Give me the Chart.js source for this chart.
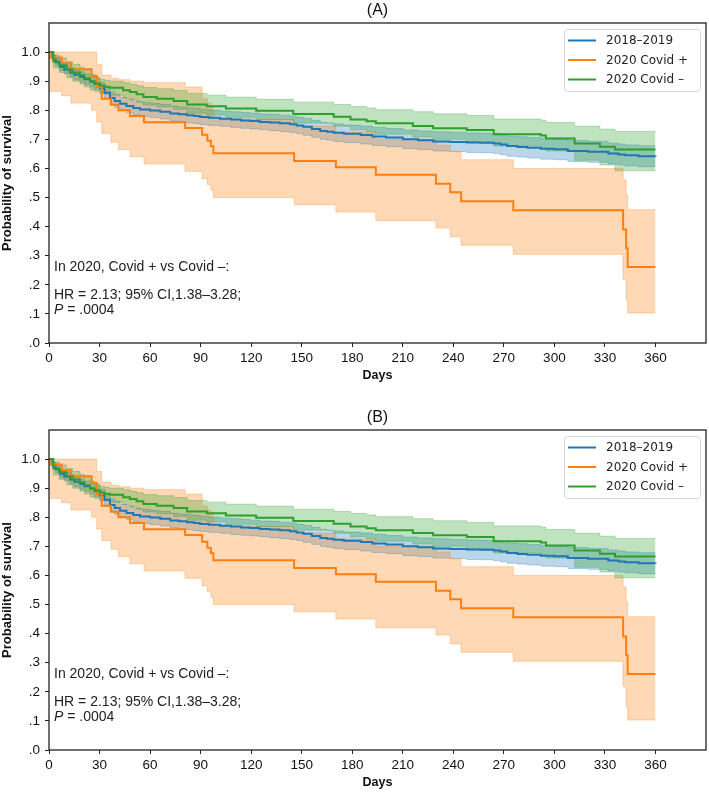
<!DOCTYPE html>
<html>
<head>
<meta charset="utf-8">
<script src="https://cdn.jsdelivr.net/npm/chart.js@4/dist/chart.umd.min.js"></script>
<style>
  html, body { margin: 0; padding: 0; background: #fff; }
  body { width: 709px; height: 792px; position: relative; overflow: hidden; }
  canvas { position: absolute; left: 0; }
  #cA { top: 0; }
  #cB { top: 407px; }
</style>
</head>
<body>
<canvas id="cA" width="709" height="385"></canvas>
<canvas id="cB" width="709" height="385"></canvas>
<script>
// ---------- data ----------
const seriesNames = ['2018\u20132019', '2020 Covid +', '2020 Covid \u2013'];
const xTicks = [0, 30, 60, 90, 120, 150, 180, 210, 240, 270, 300, 330, 360];
const yTicks = [0, 0.1, 0.2, 0.3, 0.4, 0.5, 0.6, 0.7, 0.8, 0.9, 1.0];

// 2018–2019
const baseDays = [0, 2, 4, 6.5, 9, 12.5, 15, 18.4, 21, 24.4, 27, 30.3, 33, 36.2, 39, 42.2, 46, 50, 54, 60, 66, 72, 77, 81.8, 86, 89.7, 95, 101.6, 108, 114, 119.4, 125, 131, 137, 143, 147, 151, 156, 161, 165, 169, 175, 185, 192, 200, 210, 219, 228, 238, 248, 256, 264, 268, 272, 278, 284, 292, 300, 308, 320, 332, 338, 342, 350, 360];
const baseSurv = [1, 0.98, 0.965, 0.95, 0.94, 0.93, 0.922, 0.914, 0.907, 0.899, 0.89, 0.876, 0.86, 0.842, 0.832, 0.822, 0.815, 0.808, 0.803, 0.799, 0.795, 0.789, 0.786, 0.783, 0.78, 0.777, 0.774, 0.771, 0.768, 0.765, 0.763, 0.76, 0.758, 0.755, 0.752, 0.748, 0.743, 0.736, 0.729, 0.726, 0.723, 0.719, 0.715, 0.71, 0.706, 0.70, 0.697, 0.693, 0.691, 0.689, 0.688, 0.686, 0.682, 0.677, 0.674, 0.671, 0.668, 0.666, 0.66, 0.657, 0.651, 0.648, 0.645, 0.642, 0.641];
const baseLower = [1, 0.97, 0.953, 0.936, 0.925, 0.914, 0.905, 0.896, 0.889, 0.88, 0.871, 0.856, 0.839, 0.821, 0.81, 0.8, 0.792, 0.785, 0.779, 0.775, 0.77, 0.764, 0.761, 0.757, 0.754, 0.751, 0.748, 0.745, 0.741, 0.738, 0.736, 0.733, 0.73, 0.727, 0.724, 0.72, 0.714, 0.707, 0.7, 0.697, 0.693, 0.689, 0.684, 0.679, 0.675, 0.668, 0.665, 0.66, 0.658, 0.655, 0.654, 0.651, 0.647, 0.642, 0.639, 0.636, 0.632, 0.63, 0.624, 0.621, 0.615, 0.612, 0.609, 0.606, 0.605];
const baseUpper = [1, 0.99, 0.977, 0.964, 0.955, 0.946, 0.939, 0.932, 0.925, 0.918, 0.909, 0.896, 0.881, 0.863, 0.854, 0.844, 0.838, 0.831, 0.827, 0.823, 0.82, 0.814, 0.811, 0.809, 0.806, 0.803, 0.8, 0.797, 0.795, 0.792, 0.79, 0.787, 0.786, 0.783, 0.78, 0.776, 0.772, 0.765, 0.758, 0.755, 0.753, 0.749, 0.746, 0.741, 0.737, 0.732, 0.729, 0.726, 0.724, 0.722, 0.721, 0.72, 0.716, 0.711, 0.709, 0.706, 0.703, 0.701, 0.696, 0.693, 0.687, 0.684, 0.681, 0.678, 0.677];

// 2020 Covid +
const posDays = [0, 1, 7.5, 13, 25.3, 28.3, 31.3, 36.8, 41.2, 48.1, 56.4, 80.8, 90.9, 94, 96.1, 97.6, 145.5, 170.3, 194, 229.7, 238.2, 244.6, 275.6, 340.8, 342.6, 343.5, 360];
const posSurv = [1, 0.981, 0.962, 0.941, 0.918, 0.88, 0.84, 0.819, 0.80, 0.78, 0.759, 0.739, 0.716, 0.695, 0.676, 0.652, 0.626, 0.604, 0.578, 0.547, 0.518, 0.487, 0.456, 0.39, 0.326, 0.261, 0.261];
const posLower = [0.865, 0.865, 0.85, 0.825, 0.80, 0.76, 0.72, 0.69, 0.665, 0.64, 0.615, 0.59, 0.565, 0.545, 0.525, 0.50, 0.475, 0.45, 0.42, 0.395, 0.365, 0.336, 0.305, 0.218, 0.149, 0.103, 0.103];
const posUpper = [1, 1, 1, 1, 1, 0.957, 0.92, 0.91, 0.905, 0.90, 0.895, 0.88, 0.84, 0.825, 0.81, 0.77, 0.745, 0.725, 0.70, 0.68, 0.658, 0.63, 0.60, 0.561, 0.51, 0.458, 0.458];

// 2020 Covid –
const negDays = [0, 2.6, 6, 10.5, 14, 18.4, 21, 24.4, 27, 30, 33, 36, 44, 48, 52, 56, 64, 74, 82, 93.7, 105, 123, 145, 169, 179, 188.5, 194, 216, 228, 248, 264, 292, 295, 312, 327, 336, 360];
const negSurv = [1, 0.968, 0.955, 0.94, 0.93, 0.92, 0.91, 0.899, 0.892, 0.885, 0.881, 0.877, 0.869, 0.863, 0.855, 0.846, 0.84, 0.832, 0.82, 0.814, 0.806, 0.798, 0.787, 0.778, 0.768, 0.762, 0.755, 0.746, 0.738, 0.732, 0.718, 0.713, 0.703, 0.686, 0.675, 0.665, 0.665];
const negLower = [1, 0.945, 0.93, 0.912, 0.9, 0.89, 0.88, 0.87, 0.865, 0.86, 0.856, 0.852, 0.843, 0.836, 0.828, 0.818, 0.812, 0.803, 0.79, 0.784, 0.776, 0.768, 0.756, 0.745, 0.733, 0.727, 0.718, 0.708, 0.70, 0.692, 0.677, 0.672, 0.66, 0.628, 0.612, 0.592, 0.592];
const negUpper = [1, 0.99, 0.98, 0.968, 0.958, 0.948, 0.937, 0.925, 0.915, 0.907, 0.903, 0.90, 0.895, 0.89, 0.884, 0.878, 0.874, 0.868, 0.858, 0.852, 0.845, 0.838, 0.828, 0.82, 0.813, 0.808, 0.802, 0.795, 0.788, 0.782, 0.77, 0.766, 0.758, 0.745, 0.735, 0.727, 0.727];

const annotationLines = ['In 2020, Covid + vs Covid \u2013:', 'HR = 2.13; 95% CI,1.38\u20133.28;', ' = .0004'];

// ---------- styling ----------
const COLORS = ['#1f77b4', '#ff7f0e', '#2ca02c'];
const BANDS = ['rgba(31,119,180,0.3)', 'rgba(255,127,14,0.3)', 'rgba(44,160,44,0.3)'];
const SANS = '"Liberation Sans", Arial, sans-serif';
const DEJAVU = '"DejaVu Sans", sans-serif';

function pts(xs, ys) { return xs.map((x, i) => ({ x: x, y: ys[i] })); }

function lineDs(i, xs, ys, order) {
  return { label: seriesNames[i], data: pts(xs, ys), borderColor: COLORS[i], borderWidth: 2,
    pointRadius: 0, stepped: true, fill: false, order: order };
}
function bandDs(i, xs, ys, fill, order) {
  return { label: seriesNames[i] + ' CI', data: pts(xs, ys), borderColor: BANDS[i], backgroundColor: BANDS[i],
    borderWidth: 1, pointRadius: 0, stepped: true, fill: fill, order: order };
}

const framePlugin = {
  id: 'frame',
  afterDatasetsDraw(chart) {
    const { ctx, chartArea: a } = chart;
    ctx.save();
    ctx.strokeStyle = '#222';
    ctx.lineWidth = 1.3;
    ctx.strokeRect(a.left, a.top, a.right - a.left, a.bottom - a.top);
    ctx.restore();
  }
};

function makeTextPlugin(panel) {
  return {
    id: 'texts' + panel,
    afterDraw(chart) {
      const { ctx, chartArea: a } = chart;
      ctx.save();
      // panel title
      ctx.fillStyle = '#111';
      ctx.font = '16px ' + SANS;
      ctx.textAlign = 'center';
      ctx.textBaseline = 'middle';
      ctx.fillText(panel, (a.left + a.right) / 2, a.top - 12);
      // annotation
      ctx.textAlign = 'left';
      ctx.fillStyle = '#222';
      ctx.font = '14px ' + SANS;
      const ax = a.left + 5;
      ctx.fillText(annotationLines[0], ax, a.top + 244);
      ctx.fillText(annotationLines[1], ax, a.top + 272.5);
      ctx.font = 'italic 14px ' + SANS;
      ctx.fillText('P', ax, a.top + 287.5);
      const pw = ctx.measureText('P').width;
      ctx.font = '14px ' + SANS;
      ctx.fillText(annotationLines[2], ax + pw, a.top + 287.5);
      // legend
      const bx = a.right - 142, by = a.top + 6, bw = 136, bh = 62;
      ctx.beginPath();
      if (ctx.roundRect) ctx.roundRect(bx + 0.5, by + 0.5, bw, bh, 3); else ctx.rect(bx + 0.5, by + 0.5, bw, bh);
      ctx.fillStyle = 'rgba(255,255,255,0.8)';
      ctx.fill();
      ctx.strokeStyle = '#d6d6d6';
      ctx.lineWidth = 1;
      ctx.stroke();
      const rows = [17.5, 37, 56.5];
      ctx.font = '12px ' + DEJAVU;
      ctx.textBaseline = 'middle';
      for (let i = 0; i < 3; i++) {
        const y = a.top + rows[i];
        ctx.strokeStyle = COLORS[i];
        ctx.lineWidth = 2;
        ctx.beginPath();
        ctx.moveTo(a.right - 138, y);
        ctx.lineTo(a.right - 110, y);
        ctx.stroke();
        ctx.fillStyle = '#222';
        ctx.fillText(seriesNames[i], a.right - 100, y + 0.5);
      }
      ctx.restore();
    }
  };
}

function makeChart(id, panel) {
  const datasets = [
    lineDs(2, negDays, negSurv, 0),
    lineDs(1, posDays, posSurv, 1),
    lineDs(0, baseDays, baseSurv, 2),
    bandDs(2, negDays, negUpper, '+1', 3),
    bandDs(2, negDays, negLower, false, 3),
    bandDs(1, posDays, posUpper, '+1', 4),
    bandDs(1, posDays, posLower, false, 4),
    bandDs(0, baseDays, baseUpper, '+1', 5),
    bandDs(0, baseDays, baseLower, false, 5)
  ];
  return new Chart(document.getElementById(id), {
    type: 'line',
    data: { datasets: datasets },
    options: {
      responsive: false,
      animation: false,
      events: [],
      layout: { padding: { top: 23, right: 3, left: 0, bottom: 0 } },
      plugins: {
        legend: { display: false },
        tooltip: { enabled: false },
        title: { display: false },
        filler: { drawTime: 'beforeDatasetsDraw' }
      },
      scales: {
        x: {
          type: 'linear', min: 0, max: 390,
          afterBuildTicks: s => { s.ticks = xTicks.map(v => ({ value: v })); },
          afterFit: s => { s.height = 42; },
          grid: { display: true, drawOnChartArea: false, drawTicks: true, tickLength: 4, color: '#222' },
          border: { display: false },
          ticks: { font: { family: SANS, size: 13.5 }, color: '#111', padding: 3, maxRotation: 0,
                   callback: v => String(v) },
          title: { display: true, text: 'Days', color: '#111',
                   font: { family: SANS, size: 12.5, weight: 'bold' }, padding: { top: 0, bottom: 1.5 } }
        },
        y: {
          type: 'linear', min: 0, max: 1.1,
          afterBuildTicks: s => { s.ticks = yTicks.map(v => ({ value: v })); },
          afterFit: s => { s.width = 49; },
          grid: { display: true, drawOnChartArea: false, drawTicks: true, tickLength: 4, color: '#222' },
          border: { display: false },
          ticks: { font: { family: SANS, size: 13.5 }, color: '#111', padding: 5,
                   callback: v => (Math.abs(v - 1) < 1e-6 ? '1.0' : '.' + Math.round(v * 10)) },
          title: { display: true, text: 'Probability of survival', color: '#111',
                   font: { family: SANS, size: 13, weight: 'bold' }, padding: { top: 0, bottom: 0 } }
        }
      }
    },
    plugins: [framePlugin, makeTextPlugin(panel)]
  });
}

makeChart('cA', '(A)');
makeChart('cB', '(B)');
</script>
</body>
</html>
